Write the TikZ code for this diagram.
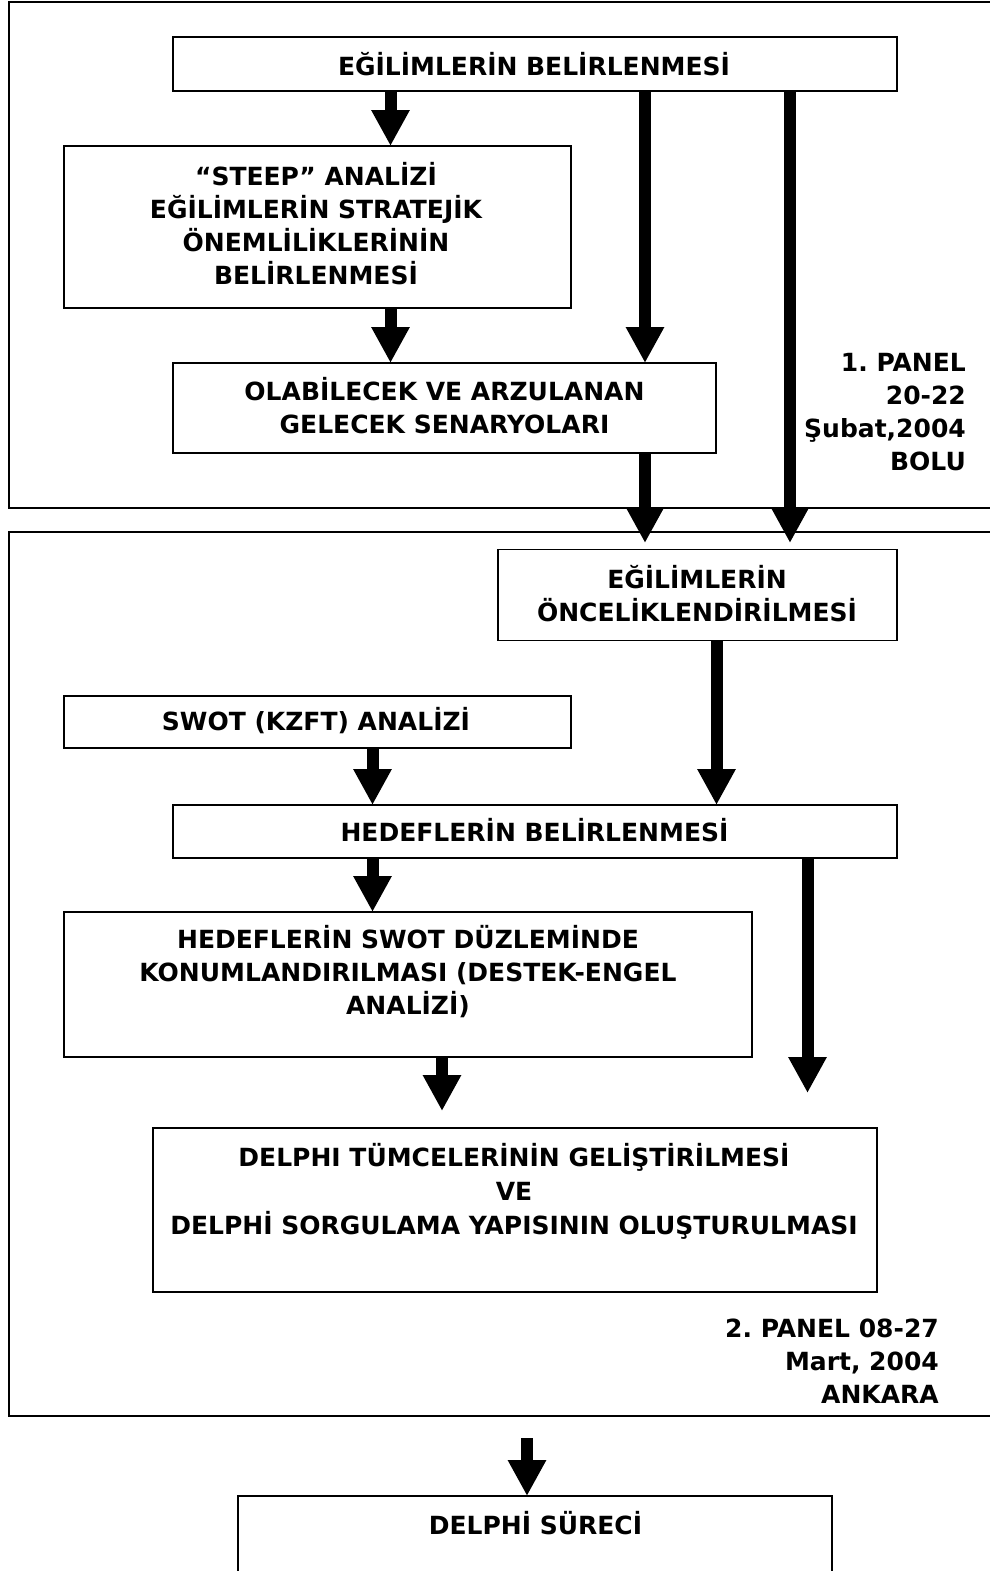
\documentclass[tikz,border=0pt]{standalone}
\usepackage{fontspec}
\setmainfont{DejaVu Sans}
\frenchspacing
\usetikzlibrary{arrows.meta}
\tikzset{
  box/.style={draw, line width=1.8pt, inner sep=0pt, outer sep=0pt},
  frame/.style={draw, line width=2.2pt},
  txt/.style={align=center, inner sep=0pt, font=\fontsize{25}{33}\selectfont\bfseries},
  bigarrow/.style={line width=12pt, -{Triangle[width=36pt, length=36pt]}},
}
\begin{document}
\begin{tikzpicture}[x=1pt, y=-1pt]
\useasboundingbox (0,0) rectangle (990,1571);
% frames
\draw[frame] (995,2) -- (9,2) -- (9,508) -- (995,508);
\draw[frame] (995,532) -- (9,532) -- (9,1416) -- (995,1416);
% boxes
\node[box, minimum width=724pt, minimum height=54pt] (b1) at (535,64) {};
\node[box, minimum width=507pt, minimum height=162pt] (steep) at (317.5,227) {};
\node[box, minimum width=543pt, minimum height=90pt] (olab) at (444.5,408) {};
\node[box, minimum width=399pt, minimum height=91pt] (once) at (697.5,595) {};
\node[box, minimum width=507pt, minimum height=52pt] (swot) at (317.5,722) {};
\node[box, minimum width=724pt, minimum height=53pt] (hed) at (535,831.5) {};
\node[box, minimum width=688pt, minimum height=145pt] (hswot) at (408,984.5) {};
\node[box, minimum width=724pt, minimum height=164pt] (dtum) at (515,1210) {};
\node[box, minimum width=594pt, minimum height=104pt] (dsur) at (535,1548) {};
% texts
\node[txt] (t1) at (534,64) {EĞİLİMLERİN BELİRLENMESİ};
\node[txt] (tsteep) at (316,223.5) {“STEEP” ANALİZİ\\EĞİLİMLERİN STRATEJİK\\ÖNEMLİLİKLERİNİN\\BELİRLENMESİ};
\node[txt] (tolab) at (444.5,406) {OLABİLECEK VE ARZULANAN\\GELECEK SENARYOLARI};
\node[txt] (tonce) at (697,593.5) {EĞİLİMLERİN\\ÖNCELİKLENDİRİLMESİ};
\node[txt] (tswot) at (316,721) {SWOT (KZFT) ANALİZİ};
\node[txt] (thed) at (534.5,830) {HEDEFLERİN BELİRLENMESİ};
\node[txt] (thswot) at (408,972) {HEDEFLERİN SWOT DÜZLEMİNDE\\KONUMLANDIRILMASI (DESTEK-ENGEL\\ANALİZİ)};
\node[txt, font=\fontsize{25}{34}\selectfont\bfseries] (tdtum) at (514,1191) {DELPHI TÜMCELERİNİN GELİŞTİRİLMESİ\\VE\\DELPHİ SORGULAMA YAPISININ OLUŞTURULMASI};
\node[txt] (tdsur) at (535.5,1523) {DELPHİ SÜRECİ};
\node[txt, align=right, anchor=east] (p1) at (966,412) {1. PANEL\\20-22\\Şubat,2004\\BOLU};
\node[txt, align=right, anchor=east] (p2) at (939,1361) {2. PANEL 08-27\\Mart, 2004\\ANKARA};
% free ends
\coordinate (e3) at (790,543);
\coordinate (e5) at (645,543);
\coordinate (e9) at (807.5,1093);
\coordinate (e10) at (442,1111);
\coordinate (s11) at (527,1438);
% arrows
\draw[bigarrow] (b1.south -| 390.5,0) -- (steep.north -| 390.5,0);
\draw[bigarrow] (b1.south -| 645,0) -- (olab.north -| 645,0);
\draw[bigarrow] (b1.south -| e3) -- (e3);
\draw[bigarrow] (steep.south -| 390.5,0) -- (olab.north -| 390.5,0);
\draw[bigarrow] (olab.south -| e5) -- (e5);
\draw[bigarrow] (once.south -| 716.5,0) -- (hed.north -| 716.5,0);
\draw[bigarrow] (swot.south -| 372.5,0) -- (hed.north -| 372.5,0);
\draw[bigarrow] (hed.south -| 372.5,0) -- (hswot.north -| 372.5,0);
\draw[bigarrow] (hed.south -| e9) -- (e9);
\draw[bigarrow] (hswot.south -| e10) -- (e10);
\draw[bigarrow] (s11) -- (dsur.north -| s11);
\end{tikzpicture}
\end{document}
